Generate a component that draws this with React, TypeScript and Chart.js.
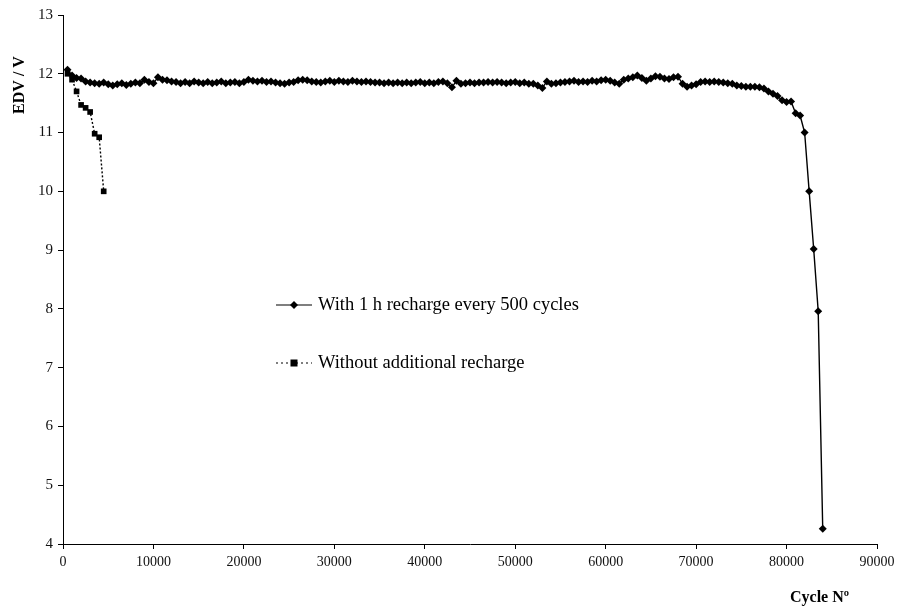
import React, { useEffect, useRef } from "react";
import { Chart, registerables } from "chart.js";

Chart.register(...registerables);

const cyclesWith: number[] = [
  500, 1000, 1500, 2000, 2500, 3000, 3500, 4000, 4500, 5000,
  5500, 6000, 6500, 7000, 7500, 8000, 8500, 9000, 9500, 10000,
  10500, 11000, 11500, 12000, 12500, 13000, 13500, 14000, 14500, 15000,
  15500, 16000, 16500, 17000, 17500, 18000, 18500, 19000, 19500, 20000,
  20500, 21000, 21500, 22000, 22500, 23000, 23500, 24000, 24500, 25000,
  25500, 26000, 26500, 27000, 27500, 28000, 28500, 29000, 29500, 30000,
  30500, 31000, 31500, 32000, 32500, 33000, 33500, 34000, 34500, 35000,
  35500, 36000, 36500, 37000, 37500, 38000, 38500, 39000, 39500, 40000,
  40500, 41000, 41500, 42000, 42500, 43000, 43500, 44000, 44500, 45000,
  45500, 46000, 46500, 47000, 47500, 48000, 48500, 49000, 49500, 50000,
  50500, 51000, 51500, 52000, 52500, 53000, 53500, 54000, 54500, 55000,
  55500, 56000, 56500, 57000, 57500, 58000, 58500, 59000, 59500, 60000,
  60500, 61000, 61500, 62000, 62500, 63000, 63500, 64000, 64500, 65000,
  65500, 66000, 66500, 67000, 67500, 68000, 68500, 69000, 69500, 70000,
  70500, 71000, 71500, 72000, 72500, 73000, 73500, 74000, 74500, 75000,
  75500, 76000, 76500, 77000, 77500, 78000, 78500, 79000, 79500, 80000,
  80500, 81000, 81500, 82000, 82500, 83000, 83500, 84000,
];

const edvWith: number[] = [
  12.07, 11.97, 11.93, 11.92, 11.87, 11.85, 11.84, 11.83, 11.85, 11.82,
  11.8, 11.82, 11.84, 11.81, 11.83, 11.85, 11.84, 11.9, 11.86, 11.84,
  11.94, 11.9, 11.89, 11.87, 11.86, 11.84, 11.86, 11.84, 11.87, 11.85,
  11.84, 11.86, 11.84, 11.85, 11.87, 11.84, 11.85, 11.86, 11.84, 11.86,
  11.9, 11.88, 11.87, 11.88, 11.86, 11.87, 11.85, 11.84, 11.83, 11.85,
  11.86, 11.89, 11.9, 11.89, 11.87, 11.86, 11.85, 11.87, 11.88, 11.86,
  11.88, 11.87, 11.86, 11.88, 11.87, 11.86, 11.87, 11.86, 11.85, 11.85,
  11.84, 11.85, 11.84, 11.85, 11.84, 11.85, 11.84, 11.85, 11.86, 11.84,
  11.85, 11.84, 11.86, 11.87, 11.84, 11.77, 11.88, 11.83, 11.84, 11.85,
  11.84, 11.85, 11.85, 11.86, 11.85, 11.86, 11.85, 11.84, 11.85, 11.86,
  11.84, 11.85, 11.83, 11.83, 11.8, 11.76, 11.87, 11.83, 11.84, 11.85,
  11.86, 11.87, 11.88, 11.86, 11.87, 11.86, 11.88, 11.87, 11.89, 11.9,
  11.88, 11.85, 11.83, 11.9, 11.92, 11.94, 11.97, 11.93, 11.88, 11.92,
  11.96, 11.95, 11.92, 11.91, 11.94, 11.95, 11.83, 11.78, 11.8, 11.82,
  11.86, 11.87, 11.86, 11.87, 11.86, 11.85, 11.84, 11.83, 11.8, 11.79,
  11.78, 11.78, 11.78, 11.77, 11.75, 11.7, 11.66, 11.62, 11.55, 11.52,
  11.53, 11.33, 11.29, 11.0, 10.0, 9.02, 7.96, 4.26,
];

const cyclesWithout: number[] = [500, 1000, 1500, 2000, 2500, 3000, 3500, 4000, 4500];
const edvWithout: number[] = [12.0, 11.9, 11.7, 11.47, 11.42, 11.35, 10.98, 10.92, 10.0];

const xTicks: number[] = [0, 10000, 20000, 30000, 40000, 50000, 60000, 70000, 80000, 90000];
const yTicks: number[] = [4, 5, 6, 7, 8, 9, 10, 11, 12, 13];

const seriesNames: string[] = [
  "With 1 h recharge every 500 cycles",
  "Without additional recharge",
];
const xTitle = "Cycle N\u00BA";
const yTitle = "EDV / V";

const SERIF = "'Liberation Serif', 'Times New Roman', serif";

const overlayPlugin = {
  id: "overlay",
  afterDraw(chart: any) {
    const ctx = chart.ctx as CanvasRenderingContext2D;
    ctx.save();
    ctx.fillStyle = "#000";
    ctx.font = `bold 16px ${SERIF}`;
    ctx.textAlign = "left";
    ctx.textBaseline = "middle";
    ctx.fillText(xTitle, 790, 598);
    ctx.save();
    ctx.translate(20, 85);
    ctx.rotate(-Math.PI / 2);
    ctx.textAlign = "center";
    ctx.fillText(yTitle, 0, 0);
    ctx.restore();

    ctx.font = `18.5px ${SERIF}`;
    ctx.textAlign = "left";
    const items = [
      { y: 305, dash: [] as number[], style: "diamond" },
      { y: 363, dash: [2, 3], style: "square" },
    ];
    items.forEach((it, i) => {
      ctx.strokeStyle = "#000";
      ctx.lineWidth = 1.2;
      ctx.setLineDash(it.dash);
      ctx.beginPath();
      ctx.moveTo(276, it.y);
      ctx.lineTo(312, it.y);
      ctx.stroke();
      ctx.setLineDash([]);
      ctx.fillStyle = "#000";
      const cx = 294;
      if (it.style === "diamond") {
        ctx.beginPath();
        ctx.moveTo(cx, it.y - 4);
        ctx.lineTo(cx + 4, it.y);
        ctx.lineTo(cx, it.y + 4);
        ctx.lineTo(cx - 4, it.y);
        ctx.closePath();
        ctx.fill();
      } else {
        ctx.fillRect(cx - 3.5, it.y - 3.5, 7, 7);
      }
      ctx.fillText(seriesNames[i], 318, it.y);
    });
    ctx.restore();
  },
};

export default function App() {
  const canvasRef = useRef<HTMLCanvasElement | null>(null);

  useEffect(() => {
    document.body.style.margin = "0";
    const canvas = canvasRef.current;
    if (!canvas) return;
    const chart = new Chart(canvas, {
      type: "line",
      data: {
        datasets: [
          {
            label: seriesNames[0],
            data: cyclesWith.map((c, i) => ({ x: c, y: edvWith[i] })),
            borderColor: "#000",
            backgroundColor: "#000",
            borderWidth: 1.4,
            pointStyle: "rectRot",
            pointRadius: 4,
            pointBorderWidth: 0,
            tension: 0,
          },
          {
            label: seriesNames[1],
            data: cyclesWithout.map((c, i) => ({ x: c, y: edvWithout[i] })),
            borderColor: "#000",
            backgroundColor: "#000",
            borderWidth: 1.4,
            borderDash: [2, 2],
            pointStyle: "rect",
            pointRadius: 4,
            pointBorderWidth: 0,
            tension: 0,
          },
        ],
      },
      options: {
        animation: false,
        responsive: false,
        maintainAspectRatio: false,
        layout: { padding: { top: 15, right: 20, left: 0, bottom: 0 } },
        plugins: {
          legend: { display: false },
          tooltip: { enabled: false },
        },
        scales: {
          x: {
            type: "linear",
            min: 0,
            max: 90000,
            afterBuildTicks: (scale: any) => {
              scale.ticks = xTicks.map((v) => ({ value: v }));
            },
            afterFit: (scale: any) => {
              scale.height = 67;
              scale.paddingRight = 0;
              scale.paddingLeft = 0;
            },
            border: { display: true, color: "#000", width: 1 },
            grid: {
              display: true,
              drawOnChartArea: false,
              drawTicks: true,
              tickLength: 5,
              color: "#000",
            },
            ticks: {
              color: "#111",
              font: { family: SERIF, size: 14 },
              padding: 5,
              maxRotation: 0,
              autoSkip: false,
              callback: (v: any) => String(v),
            },
          },
          y: {
            type: "linear",
            min: 4,
            max: 13,
            afterBuildTicks: (scale: any) => {
              scale.ticks = yTicks.map((v) => ({ value: v }));
            },
            afterFit: (scale: any) => {
              scale.width = 63;
              scale.paddingTop = 0;
              scale.paddingBottom = 0;
            },
            border: { display: true, color: "#000", width: 1 },
            grid: {
              display: true,
              drawOnChartArea: false,
              drawTicks: true,
              tickLength: 5,
              color: "#000",
            },
            ticks: {
              color: "#111",
              font: { family: SERIF, size: 15 },
              padding: 5,
              autoSkip: false,
              callback: (v: any) => String(v),
            },
          },
        },
      },
      plugins: [overlayPlugin],
    });
    return () => chart.destroy();
  }, []);

  return (
    <div style={{ width: 897, height: 611, background: "#fff" }}>
      <canvas ref={canvasRef} width={897} height={611} style={{ display: "block" }} />
    </div>
  );
}
